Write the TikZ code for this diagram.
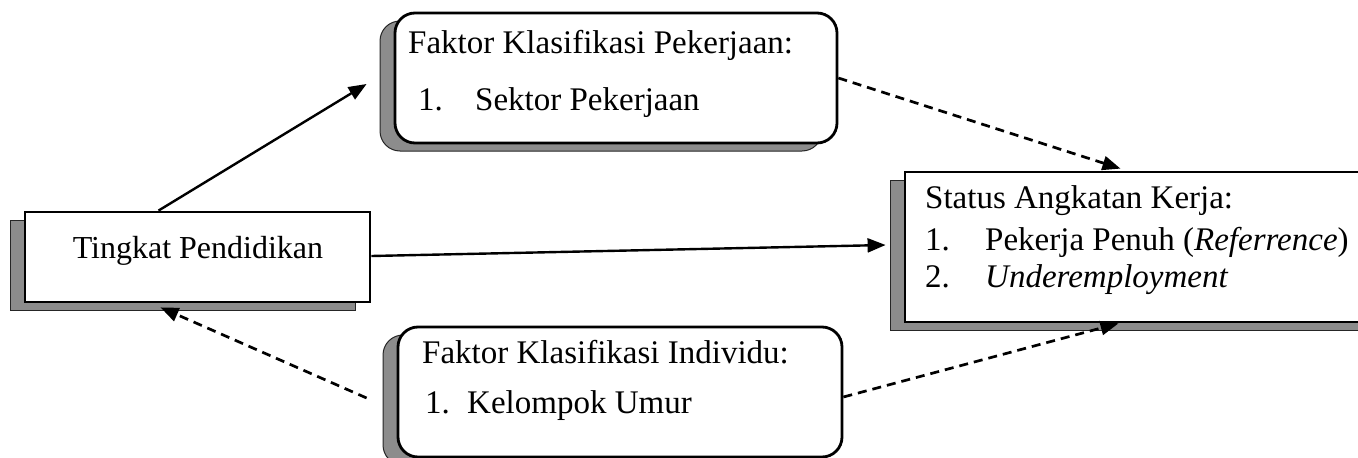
\documentclass[tikz,border=0pt]{standalone}
\usepackage{fontspec}
\setmainfont{Liberation Serif}
\usetikzlibrary{shadows,arrows.meta}
\begin{document}
\begin{tikzpicture}[x=1pt,y=-1pt,
  every node/.style={font=\fontsize{33}{39}\selectfont},
  boxshadow/.style={drop shadow={shadow xshift=-15pt,shadow yshift=-8pt,fill=black!45,draw=black!85,line width=1pt,opacity=1}},
  sqbox/.style={draw=black,line width=2.8pt,fill=white,rectangle,inner sep=0pt,boxshadow},
  rbox/.style={sqbox,rounded corners=20pt},
  txt/.style={anchor=base west,inner sep=0pt},
  solidarrow/.style={line width=2.4pt,-{Triangle[length=18pt,width=14pt]}},
  dasharrow/.style={line width=2.7pt,dash pattern=on 9pt off 6pt,-{Triangle[length=18pt,width=14pt]}}
]
\useasboundingbox (0,0) rectangle (1358,458);
\clip (0,0) rectangle (1358,458);
\fill[white] (0,0) rectangle (1358,458);

% boxes
\node[rbox,minimum width=442pt,minimum height=130pt] (pek) at (616,78) {};
\node[sqbox,minimum width=345pt,minimum height=90pt] (tingkat) at (197.5,257) {};
\node[sqbox,minimum width=515pt,minimum height=150pt] (status) at (1162.5,247) {};
\node[rbox,minimum width=444pt,minimum height=130pt] (indiv) at (620,392) {};

% texts
\node[txt] (pek1) at (408,53) {Faktor Klasifikasi Pekerjaan:};
\node[txt] (pek2n) at (418,110) {1.};
\node[txt] (pek2) at (475,110) {Sektor Pekerjaan};

\node[anchor=base,inner sep=0pt,font=\fontsize{32}{38}\selectfont] (tingkatT) at (198,258) {Tingkat Pendidikan};

\node[txt] (st1) at (925,208) {Status Angkatan Kerja:};
\node[txt] (st2n) at (925,250) {1.};
\node[txt] (st2) at (985,250) {Pekerja Penuh (\textit{Referrence})};
\node[txt] (st3n) at (925,287) {2.};
\node[txt] (st3) at (985,287) {\textit{Underemployment}};

\node[txt] (ind1) at (422,363) {Faktor Klasifikasi Individu:};
\node[txt] (ind2n) at (425,413) {1.};
\node[txt] (ind2) at (467,413) {Kelompok Umur};

% connectors
\draw[solidarrow] ([xshift=-39pt]tingkat.north) -- ([xshift=-27pt,yshift=-6pt]pek.west);
\draw[solidarrow] ([yshift=1pt]tingkat.east) -- ([xshift=-18pt,yshift=2pt]status.west);
\draw[dasharrow] (pek.east) -- ([xshift=-42pt,yshift=2pt]status.north);
\draw[dasharrow] ([xshift=-30pt,yshift=-6pt]indiv.west) -- ([xshift=-37pt,yshift=-4pt]tingkat.south);
\draw[dasharrow] ([yshift=-5pt]indiv.east) -- ([xshift=-44pt]status.south);
\end{tikzpicture}
\end{document}
